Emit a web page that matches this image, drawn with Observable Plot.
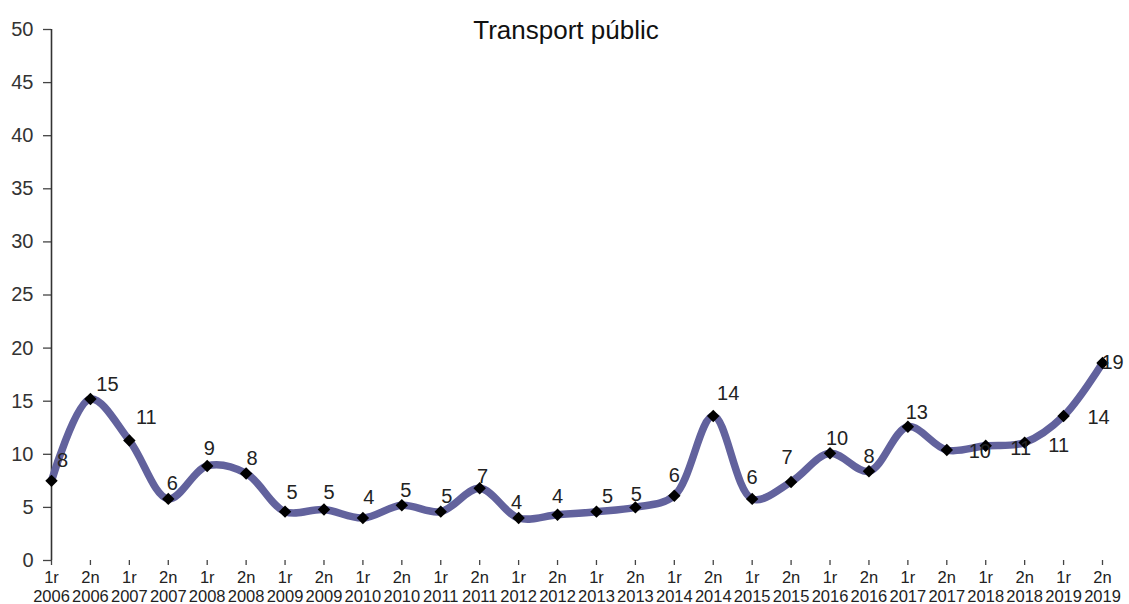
<!DOCTYPE html>
<html>
<head>
<meta charset="utf-8">
<script src="https://cdn.jsdelivr.net/npm/d3@7"></script>
<script src="https://cdn.jsdelivr.net/npm/@observablehq/plot@0.6"></script>
<style>
  html, body { margin: 0; padding: 0; background: #fff; }
  #chart { width: 1129px; height: 604px; }
</style>
</head>
<body>
<div id="chart"></div>
<script>
// ---- Data ----
const title = "Transport públic";
const halves = ["1r","2n","1r","2n","1r","2n","1r","2n","1r","2n","1r","2n","1r","2n",
                "1r","2n","1r","2n","1r","2n","1r","2n","1r","2n","1r","2n","1r","2n"];
const years = [2006,2006,2007,2007,2008,2008,2009,2009,2010,2010,2011,2011,2012,2012,
               2013,2013,2014,2014,2015,2015,2016,2016,2017,2017,2018,2018,2019,2019];
const values = [7.5,15.2,11.3,5.8,8.9,8.2,4.6,4.8,4.0,5.2,4.6,6.8,4.0,4.3,
                4.6,5.0,6.1,13.6,5.8,7.4,10.1,8.4,12.6,10.4,10.8,11.1,13.6,18.6];
const yTicks = [0,5,10,15,20,25,30,35,40,45,50];

// ---- Layout (label nudges, not data) ----
const labelNudge = [[11,-20],[17,-14],[17,-23],[4,-15],[2,-17],[6,-15],[7,-19],[5,-17],
  [6,-20],[4,-15],[6,-15],[3,-12],[-2,-15],[0,-18],[11,-15],[1,-13],[0,-20],[15,-22],
  [0,-21],[-4,-24],[7,-15],[0,-15],[9,-14],[33,2],[35,3],[34,3],[35,2],[10,0]];

const data = values.map((v, i) => ({
  key: halves[i] + "\n" + years[i],
  value: v,
  label: String(Math.round(v)),
  ndx: labelNudge[i][0],
  ndy: labelNudge[i][1]
}));
const keys = data.map(d => d.key);

const font = "'Liberation Sans', Arial, sans-serif";

const plot = Plot.plot({
  width: 1129,
  height: 604,
  marginLeft: 51,
  marginRight: 27,
  marginTop: 29,
  marginBottom: 44,
  style: { fontFamily: font, background: "#fff", overflow: "visible" },
  x: { type: "point", domain: keys, padding: 0, round: false },
  y: { domain: [0, 50] },
  marks: [
    Plot.axisY({ ticks: yTicks, tickSize: 8, tickPadding: 10, fontSize: 20, fill: "#333", stroke: "#444", strokeWidth: 1.3, label: null }),
    Plot.axisX({ tickSize: 5, tickPadding: 4, fontSize: 16.5, lineHeight: 1.15, fill: "#222", stroke: "#444", strokeWidth: 1.3, label: null }),
    Plot.ruleX([keys[0]], { y1: 0, y2: 50, stroke: "#333", strokeWidth: 1.6 }),
    Plot.ruleY([0], { x1: keys[0], x2: keys[keys.length - 1], stroke: "#444", strokeWidth: 1.6 }),
    Plot.line(data, { x: "key", y: "value", curve: "catmull-rom", stroke: "#62629d", strokeWidth: 7.5, strokeLinejoin: "round", strokeLinecap: "round" }),
    Plot.dot(data, { x: "key", y: "value", symbol: "diamond2", r: 5.6, fill: "#000", stroke: "none" }),
    ...data.map(d => Plot.text([d], { x: "key", y: "value", text: "label", dx: d.ndx, dy: d.ndy, fontSize: 20, fill: "#222", textAnchor: "middle", lineAnchor: "middle" })),
    Plot.text([title], { frameAnchor: "top", dx: -11, dy: 1, fontSize: 26, fill: "#111", lineAnchor: "middle" })
  ]
});
document.getElementById("chart").appendChild(plot);
</script>
</body>
</html>
